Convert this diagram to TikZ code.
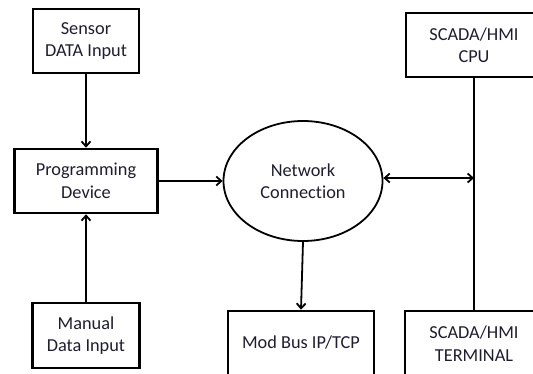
\documentclass[tikz,border=0pt]{standalone}
\usepackage{fontspec}
\setmainfont[Ligatures=NoCommon]{Carlito}
\usetikzlibrary{arrows.meta,shapes.geometric}
\definecolor{txt}{RGB}{30,30,50}
\tikzset{
  box/.style={draw=black, line width=2.6pt, fill=white, inner sep=0pt, align=center,
    text=txt, font=\fontsize{18.3}{22.5}\selectfont},
  oval/.style={ellipse, draw=black, line width=1.8pt, fill=white, inner sep=0pt, align=center,
    text=txt, font=\fontsize{18.3}{22.5}\selectfont, minimum width=159pt, minimum height=120pt},
  conn/.style={line width=1.8pt, draw=black},
  arr/.style={conn, -{Straight Barb[length=5pt,width=9pt,line width=1.8pt]}},
  darr/.style={conn, {Straight Barb[length=5pt,width=9pt,line width=1.8pt]}-{Straight Barb[length=5pt,width=9pt,line width=1.8pt]}}
}
\begin{document}
\begin{tikzpicture}[x=1pt,y=-1pt]
\useasboundingbox (0,0) rectangle (533,373);
\clip (0,0) rectangle (533,373);
\node[box, minimum width=106pt, minimum height=64pt] (sensor) at (86,41) {Sensor\\DATA Input};
\node[box, minimum width=143pt, minimum height=64pt] (prog) at (86,181) {Programming\\Device};
\node[box, minimum width=107pt, minimum height=65pt] (manual) at (86,335.5) {Manual\\Data Input};
\node[oval] (net) at (303,181) {Network\\Connection};
\node[box, minimum width=146pt, minimum height=64pt] (mod) at (301,343) {Mod Bus IP/TCP};
\node[box, minimum width=136pt, minimum height=64pt] (cpu) at (474,45) {SCADA/HMI\\CPU};
\node[box, minimum width=138pt, minimum height=65pt] (term) at (474,343.5) {SCADA/HMI\\TERMINAL};
\coordinate (j) at (474,178);
\draw[arr] (sensor.south) -- (prog.north);
\draw[arr] (manual.north) -- (prog.south);
\draw[arr] (prog.east) -- (net.west);
\draw[arr] (net.south) -- (mod.north);
\draw[conn] (cpu.south) -- (term.north);
\draw[darr] (net.east |- j) -- (j);
\end{tikzpicture}
\end{document}
